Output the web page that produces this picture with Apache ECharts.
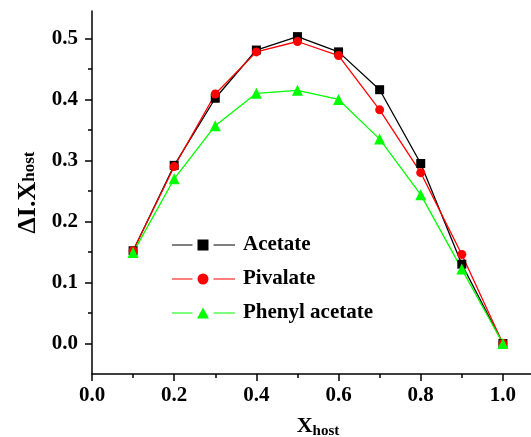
<!DOCTYPE html>
<html>
<head>
<meta charset="utf-8">
<script src="https://cdn.jsdelivr.net/npm/echarts@6/dist/echarts.min.js"></script>
<style>
html,body{margin:0;padding:0;background:#fff;}
#chart{width:531px;height:437px;}
</style>
</head>
<body>
<div id="chart"></div>
<script>
// ---- data ----
var xHost = [0.1, 0.2, 0.3, 0.4, 0.5, 0.6, 0.7, 0.8, 0.9, 1.0];
var acetate = [0.152, 0.292, 0.402, 0.481, 0.503, 0.478, 0.416, 0.295, 0.130, 0.0];
var pivalate = [0.152, 0.290, 0.409, 0.478, 0.495, 0.472, 0.383, 0.280, 0.146, 0.0];
var phenylAcetate = [0.149, 0.270, 0.357, 0.410, 0.415, 0.400, 0.335, 0.244, 0.122, 0.0];
var seriesNames = ['Acetate', 'Pivalate', 'Phenyl acetate'];
var xTickLabels = [0.0, 0.2, 0.4, 0.6, 0.8, 1.0];
var xMinorTicks = [0.1, 0.3, 0.5, 0.7, 0.9];
var yTickLabels = [0.0, 0.1, 0.2, 0.3, 0.4, 0.5];
var yMinorTicks = [0.05, 0.15, 0.25, 0.35, 0.45];

function pairs(ys) { return xHost.map(function (x, i) { return [x, ys[i]]; }); }

var FONT = 'Liberation Serif';
var lineL = 'M0 5 L20.5 5 L20.5 6 L0 6 Z ';
var lineR = ' M41.5 5 L63 5 L63 6 L41.5 6 Z';
var icons = [
  'path://' + lineL + 'M25.5 0 L36.5 0 L36.5 11 L25.5 11 Z' + lineR,
  'path://' + lineL + 'M25.5 5.5 A5.5 5.5 0 1 1 36.5 5.5 A5.5 5.5 0 1 1 25.5 5.5 Z' + lineR,
  'path://' + lineL + 'M31 0 L37 11 L25 11 Z' + lineR
];

var chart = echarts.init(document.getElementById('chart'), null, {renderer: 'canvas'});

var axisLineStyle = {color: '#000', width: 1.5};
var xTitleRich = {
  a: {fontFamily: FONT, fontWeight: 'bold', fontSize: 22, color: '#000', lineHeight: 24},
  b: {fontFamily: FONT, fontWeight: 'bold', fontSize: 15, color: '#000', lineHeight: 24, padding: [10, 0, 0, 0]}
};
var yTitleRich = {
  a: {fontFamily: FONT, fontWeight: 'bold', fontSize: 26, color: '#000', lineHeight: 28},
  b: {fontFamily: FONT, fontWeight: 'bold', fontSize: 17, color: '#000', lineHeight: 28, padding: [4, 0, 0, 0]}
};

var option = {
  animation: false,
  backgroundColor: '#fff',
  grid: {left: 92, width: 452, top: 11, bottom: 63, containLabel: false, outerBoundsMode: 'none'},
  legend: {
    orient: 'vertical',
    left: 167,
    top: 229.5,
    itemWidth: 63,
    itemHeight: 11,
    itemGap: 13,
    itemStyle: {borderWidth: 0},
    textStyle: {fontFamily: FONT, fontWeight: 'bold', fontSize: 21, color: '#000', lineHeight: 20, padding: [0, 0, 0, 3]},
    data: seriesNames.map(function (n, i) { return {name: n, icon: icons[i]}; })
  },
  xAxis: [{
    type: 'value', min: 0, max: 1.1,
    position: 'bottom',
    splitLine: {show: false},
    axisLine: {onZero: false, lineStyle: axisLineStyle},
    axisTick: {length: 7, lineStyle: {color: '#000', width: 1.5}, customValues: xTickLabels},
    axisLabel: {customValues: xTickLabels, margin: 11, formatter: function (v) { return v.toFixed(1); }, fontFamily: FONT, fontWeight: 'bold', fontSize: 21, color: '#000'},
    name: '{a|X}{b|host}',
    nameLocation: 'middle',
    nameGap: 40,
    nameTextStyle: {rich: xTitleRich}
  }, {
    type: 'value', min: 0, max: 1.1,
    position: 'bottom',
    splitLine: {show: false},
    axisLine: {show: false, onZero: false},
    axisTick: {length: 4, lineStyle: {color: '#000', width: 1.5}, customValues: xMinorTicks},
    axisLabel: {show: false}
  }],
  yAxis: [{
    type: 'value', min: -0.05, max: 0.545,
    position: 'left',
    splitLine: {show: false},
    axisLine: {onZero: false, lineStyle: axisLineStyle},
    axisTick: {length: 7, lineStyle: {color: '#000', width: 1.5}, customValues: yTickLabels},
    axisLabel: {customValues: yTickLabels, margin: 14, formatter: function (v) { return v.toFixed(1); }, fontFamily: FONT, fontWeight: 'bold', fontSize: 21, color: '#000'},
    name: '{a|ΔI.X}{b|host}',
    nameLocation: 'middle',
    nameRotate: 90,
    nameGap: 49,
    nameTextStyle: {rich: yTitleRich}
  }, {
    type: 'value', min: -0.05, max: 0.545,
    position: 'left',
    offset: 0,
    splitLine: {show: false},
    axisLine: {show: false, onZero: false},
    axisTick: {length: 4, lineStyle: {color: '#000', width: 1.5}, customValues: yMinorTicks},
    axisLabel: {show: false}
  }],
  series: [{
    name: seriesNames[0], type: 'line', data: pairs(acetate),
    symbol: 'rect', symbolSize: 9,
    itemStyle: {color: '#000000', borderWidth: 0},
    lineStyle: {color: '#000000', width: 1.3}
  }, {
    name: seriesNames[1], type: 'line', data: pairs(pivalate),
    symbol: 'circle', symbolSize: 9,
    itemStyle: {color: '#ff0000', borderWidth: 0},
    lineStyle: {color: '#ff0000', width: 1.3}
  }, {
    name: seriesNames[2], type: 'line', data: pairs(phenylAcetate),
    symbol: 'triangle', symbolSize: 11,
    itemStyle: {color: '#00ff00', borderWidth: 0},
    lineStyle: {color: '#00ff00', width: 1.3}
  }]
};
chart.setOption(option);
</script>
</body>
</html>
